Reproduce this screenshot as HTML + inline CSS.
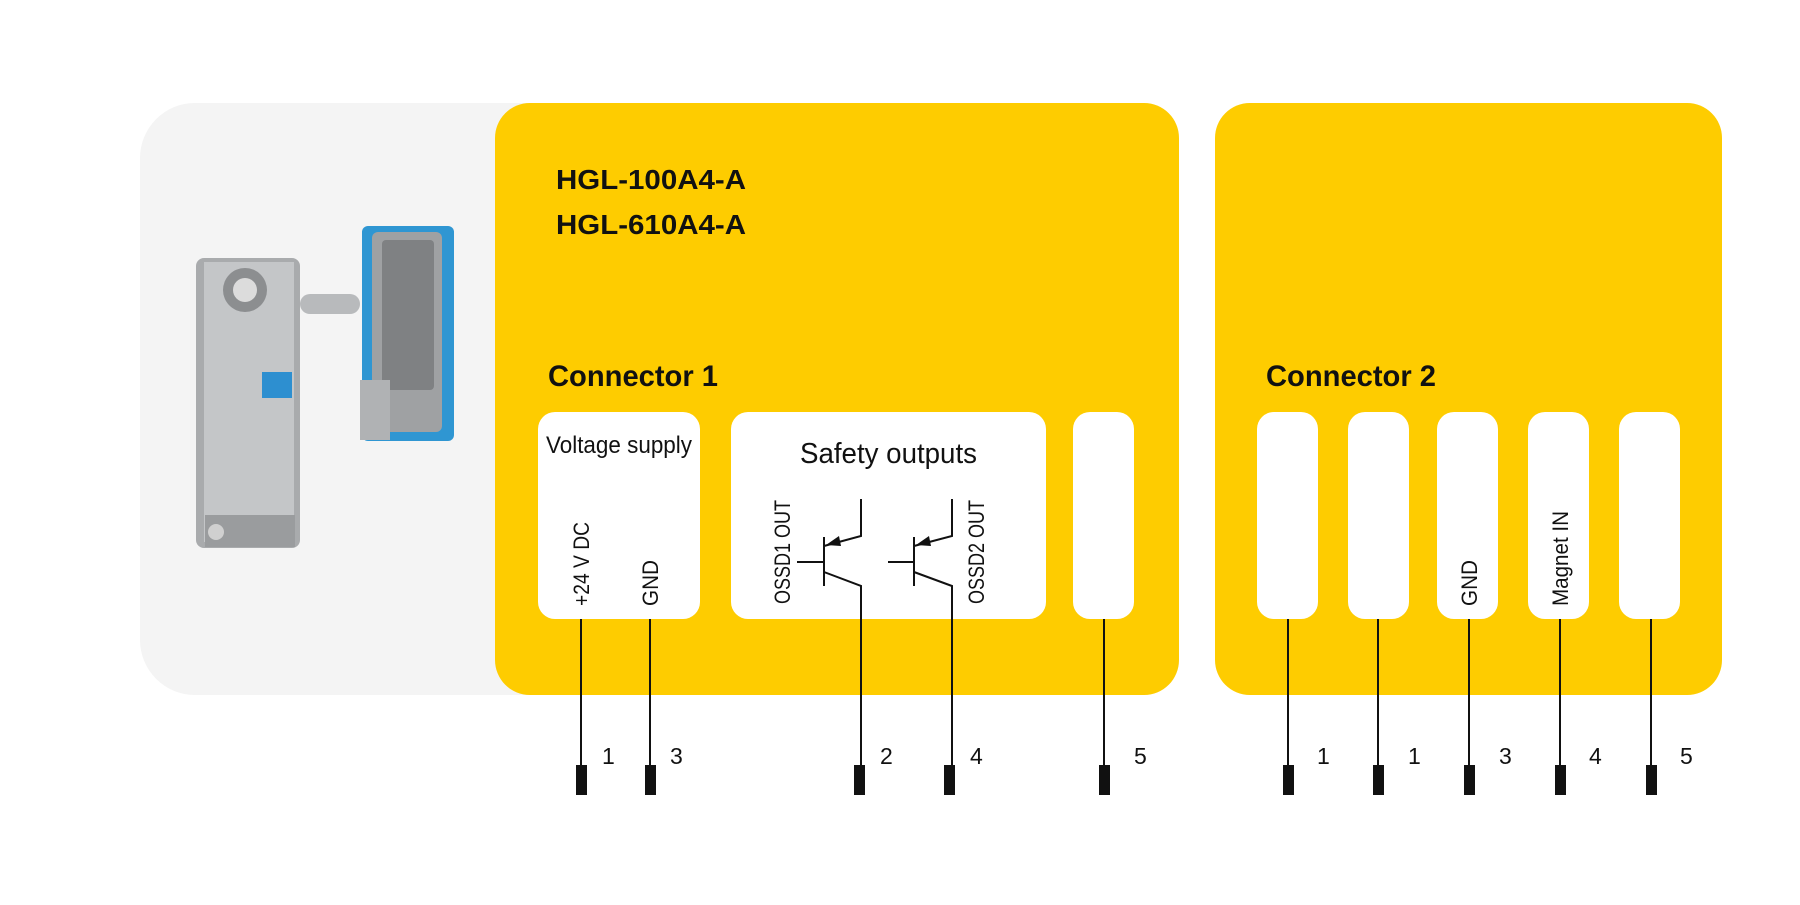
<!DOCTYPE html>
<html><head><meta charset="utf-8"><style>
body{margin:0;background:#fff}
svg text{font-family:"Liberation Sans Narrow","Liberation Sans",sans-serif;fill:#111}
</style></head><body>
<svg width="1800" height="900" viewBox="0 0 1800 900" xmlns="http://www.w3.org/2000/svg">
<rect x="140" y="103" width="500" height="592" rx="55" fill="#f4f4f4"/>
<rect x="495" y="103" width="684" height="592" rx="35" fill="#fecc00"/>
<rect x="1215" y="103" width="507" height="592" rx="35" fill="#fecc00"/>
<g>
<rect x="196" y="258" width="104" height="290" rx="8" fill="#a9abad"/>
<rect x="204" y="262" width="90" height="280" fill="#c4c6c8"/>
<circle cx="245" cy="290" r="22" fill="#8c8e90"/>
<circle cx="245" cy="290" r="12" fill="#dcdcdc"/>
<rect x="262" y="372" width="30" height="26" fill="#2d8fd0"/>
<rect x="205" y="515" width="90" height="32" fill="#9a9c9e"/>
<circle cx="216" cy="532" r="8" fill="#d0d0d0"/>
<rect x="300" y="294" width="60" height="20" rx="10" fill="#b8babc"/>
<rect x="362" y="226" width="92" height="215" rx="6" fill="#2f96d2"/>
<rect x="372" y="232" width="70" height="200" rx="6" fill="#9fa1a3"/>
<rect x="382" y="240" width="52" height="150" rx="4" fill="#7f8183"/>
<rect x="360" y="380" width="30" height="60" fill="#b0b2b4"/>
</g>
<text x="556" y="189" font-size="28" font-weight="bold" textLength="190" lengthAdjust="spacingAndGlyphs">HGL-100A4-A</text>
<text x="556" y="234" font-size="28" font-weight="bold" textLength="190" lengthAdjust="spacingAndGlyphs">HGL-610A4-A</text>
<text x="548" y="386" font-size="30" font-weight="bold" textLength="170" lengthAdjust="spacingAndGlyphs">Connector 1</text>
<text x="1266" y="386" font-size="30" font-weight="bold" textLength="170" lengthAdjust="spacingAndGlyphs">Connector 2</text>
<g fill="#fff">
<rect x="538" y="412" width="162" height="207" rx="17"/>
<rect x="731" y="412" width="315" height="207" rx="17"/>
<rect x="1073" y="412" width="61" height="207" rx="17"/>
<rect x="1257" y="412" width="61" height="207" rx="17"/>
<rect x="1348" y="412" width="61" height="207" rx="17"/>
<rect x="1437" y="412" width="61" height="207" rx="17"/>
<rect x="1528" y="412" width="61" height="207" rx="17"/>
<rect x="1619" y="412" width="61" height="207" rx="17"/>
</g>
<text x="546" y="453" font-size="24" textLength="146" lengthAdjust="spacingAndGlyphs">Voltage supply</text>
<text x="800" y="463" font-size="29" textLength="177" lengthAdjust="spacingAndGlyphs">Safety outputs</text>
<g font-size="22">
<text transform="translate(589,606) rotate(-90)" textLength="84" lengthAdjust="spacingAndGlyphs">+24 V DC</text>
<text transform="translate(658,606) rotate(-90)" textLength="46" lengthAdjust="spacingAndGlyphs">GND</text>
<text transform="translate(790,604) rotate(-90)" textLength="104" lengthAdjust="spacingAndGlyphs">OSSD1 OUT</text>
<text transform="translate(984,604) rotate(-90)" textLength="104" lengthAdjust="spacingAndGlyphs">OSSD2 OUT</text>
<text transform="translate(1477,606) rotate(-90)" textLength="46" lengthAdjust="spacingAndGlyphs">GND</text>
<text transform="translate(1568,606) rotate(-90)" textLength="95" lengthAdjust="spacingAndGlyphs">Magnet IN</text>
</g>
<g stroke="#111" stroke-width="2" fill="none">
<path d="M797 562H824M824 537V586M824 546L861 536V499M824 572L861 586V768"/>
<path d="M888 562H914M914 537V586M914 546L952 536V499M914 572L952 586V768"/>
<path d="M581 619V768M650 619V768M1104 619V768M1288 619V768M1378 619V768M1469 619V768M1560 619V768M1651 619V768"/>
</g>
<polygon points="826,545 839,536 841,546" fill="#111"/>
<polygon points="916,545 929,536 931,546" fill="#111"/>
<g fill="#111">
<rect x="576" y="765" width="11" height="30"/><rect x="645" y="765" width="11" height="30"/>
<rect x="854" y="765" width="11" height="30"/><rect x="944" y="765" width="11" height="30"/>
<rect x="1099" y="765" width="11" height="30"/><rect x="1283" y="765" width="11" height="30"/>
<rect x="1373" y="765" width="11" height="30"/><rect x="1464" y="765" width="11" height="30"/>
<rect x="1555" y="765" width="11" height="30"/><rect x="1646" y="765" width="11" height="30"/>
</g>
<g font-size="23">
<text x="602" y="764">1</text><text x="670" y="764">3</text>
<text x="880" y="764">2</text><text x="970" y="764">4</text>
<text x="1134" y="764">5</text><text x="1317" y="764">1</text>
<text x="1408" y="764">1</text><text x="1499" y="764">3</text>
<text x="1589" y="764">4</text><text x="1680" y="764">5</text>
</g>
</svg>
</body></html>
